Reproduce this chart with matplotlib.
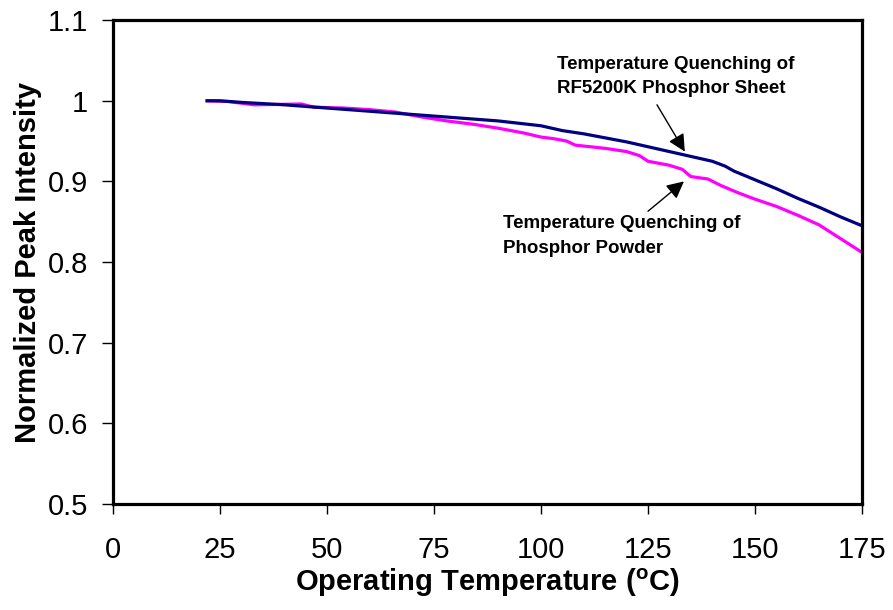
import matplotlib
matplotlib.use('Agg')
import matplotlib.pyplot as plt

# Phosphor sheet (RF5200K) - normalized peak intensity vs temperature
sheet_temp = [22, 25, 30, 40, 50, 60, 70, 80, 90, 100, 105, 110, 115, 120, 125,
              130, 135, 140, 143, 145, 150, 155, 160, 165, 170, 175]
sheet_int = [1.0, 1.0, 0.998, 0.995, 0.991, 0.987, 0.983, 0.979, 0.975, 0.969, 0.963,
             0.959, 0.954, 0.949, 0.943, 0.937, 0.931, 0.925, 0.919, 0.913, 0.902,
             0.891, 0.879, 0.868, 0.856, 0.845]

# Phosphor powder
powder_temp = [22, 27, 33, 44, 47, 54, 60, 66, 70, 72, 78, 84, 90, 96, 100, 103, 106,
               108, 115, 120, 123, 125, 130, 133, 135, 139, 142, 146, 150, 155, 160,
               165, 170, 175]
powder_int = [1.0, 0.999, 0.995, 0.996, 0.992, 0.991, 0.989, 0.986, 0.982, 0.980,
              0.975, 0.971, 0.966, 0.960, 0.955, 0.953, 0.950, 0.945, 0.941, 0.937,
              0.932, 0.925, 0.920, 0.915, 0.906, 0.903, 0.895, 0.886, 0.878, 0.869,
              0.858, 0.846, 0.829, 0.812]

x_ticks = [0, 25, 50, 75, 100, 125, 150, 175]
y_ticks = [0.5, 0.6, 0.7, 0.8, 0.9, 1.0, 1.1]
y_labels = ['0.5', '0.6', '0.7', '0.8', '0.9', '1', '1.1']

plt.rcParams['font.family'] = ['Liberation Sans', 'DejaVu Sans']
plt.rcParams['mathtext.fontset'] = 'custom'
plt.rcParams['mathtext.rm'] = 'Liberation Sans'
plt.rcParams['mathtext.bf'] = 'Liberation Sans:bold'

fig = plt.figure(figsize=(8.93, 6.10), dpi=100)
ax = fig.add_axes([0.1265, 0.1738, 0.9653 - 0.1265, 0.967 - 0.1738])

ax.plot(sheet_temp, sheet_int, color='#000080', lw=2.3, zorder=3)
ax.plot(powder_temp, powder_int, color='#FF00FF', lw=2.3, zorder=2)

ax.set_xlim(0, 175)
ax.set_ylim(0.5, 1.1)
ax.set_xticks(x_ticks)
ax.set_yticks(y_ticks)
ax.set_yticklabels(y_labels)
ax.tick_params(axis='x', direction='out', length=7, width=1, pad=16, labelsize=21)
ax.tick_params(axis='y', direction='out', length=8, width=1, pad=10, labelsize=21)
for s in ax.spines.values():
    s.set_linewidth(2.3)

ax.set_xlabel(r'Operating Temperature ($^{\mathbf{o}}$C)', fontsize=21, fontweight='bold', labelpad=2)
ax.set_ylabel('Normalized Peak Intensity', fontsize=21, fontweight='bold', labelpad=4)

# annotations
ax.text(103.7, 1.030, 'Temperature Quenching of\nRF5200K Phosphor Sheet',
        fontsize=13.5, fontweight='bold', ha='left', va='center', linespacing=1.6)
ax.annotate('', xy=(133.6, 0.937), xytext=(127.1, 0.995),
            arrowprops=dict(arrowstyle='-|>', color='black', lw=1, mutation_scale=26,
                            shrinkA=0, shrinkB=0))
ax.text(91.1, 0.832, 'Temperature Quenching of\nPhosphor Powder',
        fontsize=13.5, fontweight='bold', ha='left', va='center', linespacing=1.6)
ax.annotate('', xy=(133.4, 0.900), xytext=(125.0, 0.863),
            arrowprops=dict(arrowstyle='-|>', color='black', lw=1, mutation_scale=26,
                            shrinkA=0, shrinkB=0))

plt.savefig('out.png', dpi=100)
